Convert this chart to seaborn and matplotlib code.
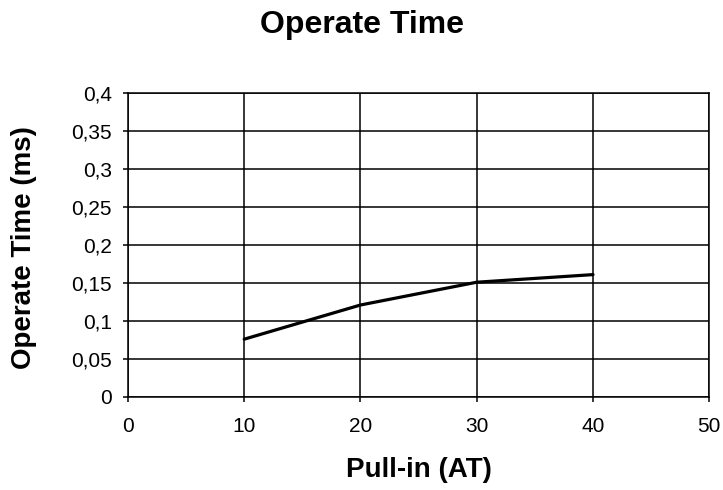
import matplotlib
matplotlib.use("Agg")
import matplotlib.pyplot as plt
import seaborn as sns
import pandas as pd
from matplotlib.ticker import FuncFormatter, MultipleLocator

# values
pull_in = [10, 20, 30, 40]
operate_time = [0.076, 0.121, 0.151, 0.161]

df = pd.DataFrame({"pull_in": pull_in, "operate_time": operate_time})

sns.set_style("white")
plt.rcParams['font.family'] = ['Liberation Sans', 'DejaVu Sans']
plt.rcParams['text.color'] = 'black'
plt.rcParams['axes.labelcolor'] = 'black'

fig = plt.figure(figsize=(7.23, 4.90), dpi=100)
ax = fig.add_axes([0.177, 0.190, 0.804, 0.620])

sns.lineplot(data=df, x="pull_in", y="operate_time", ax=ax,
             color="black", linewidth=2.3)

ax.set_xlim(0, 50)
ax.set_ylim(0, 0.4)
ax.xaxis.set_major_locator(MultipleLocator(10))
ax.yaxis.set_major_locator(MultipleLocator(0.05))
ax.yaxis.set_major_formatter(FuncFormatter(lambda v, p: f"{v:g}".replace(".", ",")))
ax.grid(True, color="black", linewidth=1.1)
ax.set_axisbelow(True)
for s in ax.spines.values():
    s.set_color("black")
    s.set_linewidth(1.1)
ax.tick_params(bottom=True, left=True, direction="out", length=3.6, width=1.1,
               colors="black", labelsize=15)
ax.tick_params(axis="y", pad=8)
ax.tick_params(axis="x", pad=11)

ax.set_xlabel("Pull-in (AT)", fontsize=20, fontweight="bold", va="center")
ax.xaxis.set_label_coords(0.5, -0.24)
ax.set_ylabel("Operate Time (ms)", fontsize=20, fontweight="bold", va="center")
ax.yaxis.set_label_coords(-0.179, 0.49)
fig.suptitle("Operate Time", fontsize=23, fontweight="bold", x=0.5, y=0.949, va="center")

fig.savefig("out.png", dpi=100)
